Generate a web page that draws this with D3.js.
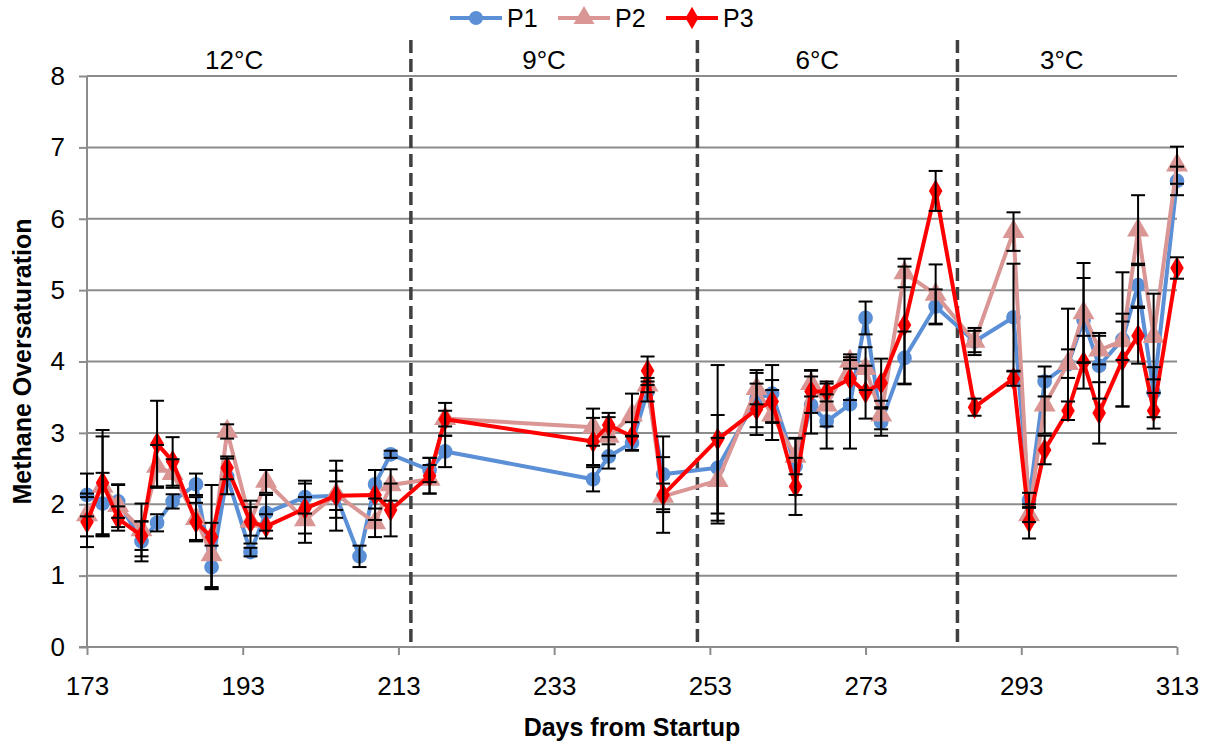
<!DOCTYPE html>
<html><head><meta charset="utf-8">
<script src="https://cdn.jsdelivr.net/npm/d3@7"></script>
<style>body{margin:0;background:#fff;} svg{display:block;font-family:"Liberation Sans",Arial,sans-serif;}</style>
</head><body><svg id="c" width="1210" height="746"></svg>
<script>
// ---- data ----
const days = [173,175,177,180,182,184,187,189,191,194,196,201,205,208,210,212,217,219,238,240,243,245,247,254,259,261,264,266,268,271,273,275,278,282,287,292,294,296,299,301,303,306,308,310,313];
const p1Values = [2.13,2.01,2.04,1.48,1.74,2.04,2.28,1.12,2.39,1.33,1.88,2.10,2.12,1.27,2.28,2.70,2.48,2.74,2.35,2.67,2.86,3.58,2.42,2.51,3.48,3.55,2.53,3.39,3.16,3.40,4.61,3.15,4.05,4.77,4.28,4.62,2.06,3.72,3.96,4.58,3.94,4.31,5.07,3.57,6.53];
const p2Values = [1.85,2.25,1.98,1.64,2.53,2.43,1.80,1.29,3.02,1.76,2.32,1.78,2.14,null,1.74,2.27,2.35,3.20,3.08,2.95,3.25,3.67,2.11,2.33,3.62,3.25,2.67,3.69,3.39,4.00,3.90,3.25,5.24,4.94,4.28,5.82,1.85,3.39,3.97,4.68,4.16,4.29,5.84,4.35,6.75];
const p3Values = [1.75,2.30,1.80,1.56,2.85,2.60,1.75,1.54,2.51,1.75,1.69,1.94,2.12,null,2.13,1.92,2.40,3.19,2.88,3.11,2.95,3.87,2.13,2.91,3.33,3.44,2.25,3.58,3.58,3.76,3.57,3.70,4.51,6.39,3.36,3.76,1.76,2.76,3.31,3.99,3.28,4.02,4.36,3.31,5.31];
const p1Errors = [0.30,0.43,0.23,0.28,0.12,0.10,0.15,0.30,0.25,0.06,0.25,0.23,0.20,0.15,0.20,0.05,0.17,0.22,0.17,0.17,0.10,0.14,0.53,0.74,0.40,0.40,0.40,0.40,0.38,0.62,0.23,0.19,0.37,0.24,0.19,0.75,0.10,0.21,0.78,0.59,0.46,0.94,0.30,0.35,0.20];
const p2Errors = [0.30,0.70,0.30,0.37,0.30,0.20,0.30,0.45,0.10,0.20,0.16,0.32,0.33,null,0.20,0.22,0.20,0.11,0.26,0.27,0.30,0.10,0.18,0.60,0.22,0.35,0.25,0.18,0.30,0.10,0.30,0.20,0.20,0.42,0.15,0.27,0.10,0.40,0.20,0.70,0.20,0.27,0.49,0.60,0.26];
const p3Errors = [0.35,0.74,0.17,0.20,0.60,0.34,0.27,0.73,0.16,0.30,0.17,0.35,0.49,null,0.35,0.37,0.25,0.23,0.33,0.17,0.20,0.20,0.53,1.04,0.36,0.30,0.40,0.30,0.14,0.30,0.37,0.34,0.82,0.28,0.12,0.10,0.24,0.20,0.13,0.37,0.43,0.65,0.39,0.25,0.15];
const seriesNames = ["P1","P2","P3"];
const xTicks = [173,193,213,233,253,273,293,313];
const yTicks = [0,1,2,3,4,5,6,7,8];
const dividerDays = [214.6,251.4,284.8];
const zoneLabels = ["12°C","9°C","6°C","3°C"];
const zoneLabelDays = [191.9,231.7,266.8,298.2];

// ---- chart ----
const svg = d3.select("#c");
const x = d3.scaleLinear().domain([173,313]).range([87,1177]);
const y = d3.scaleLinear().domain([0,8]).range([647,76]);
const gridColor = "#8c8c8c";
const colors = ["#5b8fd6","#d99694","#ff0000"];
const shapes = [d3.symbolCircle, d3.symbolTriangle, d3.symbolDiamond];
const shapeSizes = [170, 210, 160];

// gridlines
svg.append("g").selectAll("line").data(yTicks.filter(v=>v>0)).join("line")
  .attr("x1", x(173)).attr("x2", x(313)).attr("y1", d=>y(d)).attr("y2", d=>y(d))
  .attr("stroke", gridColor).attr("stroke-width", 2);

// y axis
const yAxis = svg.append("g").attr("transform", `translate(${x(173)},0)`)
  .call(d3.axisLeft(y).tickValues(yTicks).tickSize(8).tickPadding(14).tickFormat(d3.format("d")));
yAxis.selectAll("path,line").attr("stroke", gridColor).attr("stroke-width", 2);
yAxis.select(".domain").attr("d", `M0,${y(8)}V${y(0)}`);
yAxis.selectAll("text").attr("font-size", 26).attr("fill", "#000").attr("font-family", "Liberation Sans, Arial, sans-serif");

// x axis
const xAxis = svg.append("g").attr("transform", `translate(0,${y(0)})`)
  .call(d3.axisBottom(x).tickValues(xTicks).tickSize(8).tickPadding(22).tickFormat(d3.format("d")));
xAxis.selectAll("path,line").attr("stroke", gridColor).attr("stroke-width", 2);
xAxis.select(".domain").attr("d", `M${x(173)-8},0H${x(313)}`);
xAxis.selectAll("text").attr("font-size", 26).attr("fill", "#000").attr("font-family", "Liberation Sans, Arial, sans-serif");

// dividers
svg.append("g").selectAll("line").data(dividerDays).join("line")
  .attr("x1", d=>x(d)).attr("x2", d=>x(d)).attr("y1", 40).attr("y2", y(0))
  .attr("stroke", "#404040").attr("stroke-width", 3.5).attr("stroke-dasharray", "13,6");

// zone labels
svg.append("g").selectAll("text").data(zoneLabels).join("text")
  .attr("x", (d,i)=>x(zoneLabelDays[i])).attr("y", 60).attr("dy", "0.35em")
  .attr("text-anchor", "middle").attr("font-size", 26).text(d=>d);

// series
const allValues = [p1Values,p2Values,p3Values];
const allErrors = [p1Errors,p2Errors,p3Errors];
const seriesData = allValues.map((vals,si)=>days.map((d,i)=>({day:d, v:vals[i], e:allErrors[si][i]})).filter(p=>p.v!=null));
const line = d3.line().x(d=>x(d.day)).y(d=>y(d.v));
const plot = svg.append("g");
seriesData.forEach((data,si)=>{
  const g = plot.append("g");
  g.append("path").datum(data).attr("d", line).attr("fill","none")
    .attr("stroke", colors[si]).attr("stroke-width", 4).attr("stroke-linejoin","round");
  g.selectAll("path.m").data(data).join("path").attr("class","m")
    .attr("transform", d=>`translate(${x(d.day)},${y(d.v)})`)
    .attr("d", d3.symbol().type(shapes[si]).size(shapeSizes[si]))
    .attr("fill", colors[si]);
});
// error bars
const eg = plot.append("g").attr("stroke","#000").attr("stroke-width",2);
seriesData.forEach((data,si)=>{
  data.filter(d=>d.e!=null).forEach(d=>{
    const cx = x(d.day), y1 = y(d.v + d.e), y2 = y(d.v - d.e);
    eg.append("line").attr("x1",cx).attr("x2",cx).attr("y1",y1).attr("y2",y2);
    eg.append("line").attr("x1",cx-7).attr("x2",cx+7).attr("y1",y1).attr("y2",y1);
    eg.append("line").attr("x1",cx-7).attr("x2",cx+7).attr("y1",y2).attr("y2",y2);
  });
});

// legend
const legendX = [450,558,666];
const lg = svg.append("g");
seriesNames.forEach((n,i)=>{
  const g = lg.append("g").attr("transform", `translate(${legendX[i]},18)`);
  g.append("line").attr("x1",0).attr("x2",52).attr("stroke",colors[i]).attr("stroke-width",4);
  g.append("path").attr("transform","translate(26,0)").attr("d", d3.symbol().type(shapes[i]).size(shapeSizes[i]*0.9)).attr("fill",colors[i]);
  g.append("text").attr("x",57).attr("dy","0.35em").attr("font-size",25).text(n);
});

// axis titles
svg.append("text").attr("x", (x(173)+x(313))/2).attr("y", 727).attr("dy","0.35em")
  .attr("text-anchor","middle").attr("font-size",25).attr("font-weight","bold").text("Days from Startup");
svg.append("text").attr("transform", `translate(22,${(y(0)+y(8))/2}) rotate(-90)`).attr("dy","0.35em")
  .attr("text-anchor","middle").attr("font-size",25).attr("font-weight","bold").text("Methane Oversaturation");
</script></body></html>
